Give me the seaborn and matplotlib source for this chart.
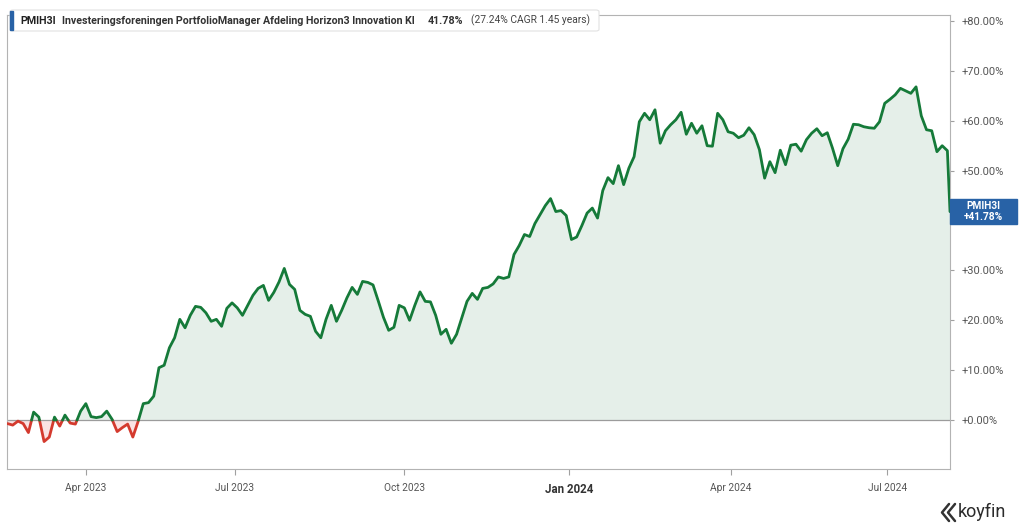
import numpy as np
import pandas as pd
import seaborn as sns
import matplotlib.pyplot as plt
import matplotlib.transforms as mtransforms
from matplotlib.patches import Rectangle, FancyBboxPatch
from matplotlib.lines import Line2D

# trading calendar of the fund (Copenhagen closing days)
start_date = "2023-02-20"
end_date = "2024-08-02"
holidays = ["2023-04-06", "2023-04-07", "2023-04-10", "2023-05-05", "2023-05-18",
            "2023-05-19", "2023-05-29", "2023-06-05", "2023-12-25", "2023-12-26",
            "2024-01-01", "2024-03-28", "2024-03-29", "2024-04-01", "2024-05-09",
            "2024-05-10", "2024-05-20", "2024-06-05"]

# cumulative return in %, read every second session (+ last session)
ret = [-0.7, -1.0, -0.2, -0.7, -2.5, 1.6, 0.6, -4.3, -3.4, 0.6,
       -1.2, 1.0, -0.6, -0.8, 1.8, 3.3, 0.7, 0.5, 0.7, 1.8,
       0.2, -2.3, -1.5, -0.8, -3.4, -0.3, 3.3, 3.5, 4.8, 10.5,
       11.0, 14.5, 16.5, 20.2, 18.5, 21.0, 22.8, 22.6, 21.5, 19.8,
       20.2, 18.8, 22.4, 23.5, 22.5, 21.0, 23.0, 25.0, 26.4, 27.0,
       24.0, 25.6, 27.7, 30.4, 27.2, 26.2, 22.0, 21.2, 20.8, 17.8,
       16.5, 20.2, 23.0, 19.8, 22.0, 24.5, 26.6, 25.2, 27.8, 27.6,
       27.1, 23.9, 20.6, 18.0, 18.6, 23.0, 22.5, 20.0, 23.0, 25.7,
       23.8, 23.7, 21.0, 17.2, 18.2, 15.4, 17.2, 20.5, 23.8, 25.4,
       24.2, 26.4, 26.6, 27.3, 28.7, 28.4, 28.7, 33.2, 35.0, 37.2,
       36.8, 39.4, 41.2, 43.0, 44.4, 41.8, 42.0, 41.0, 36.2, 36.7,
       39.0, 41.5, 42.5, 40.5, 46.0, 48.6, 47.4, 51.0, 47.2, 50.5,
       52.8, 59.8, 61.5, 60.2, 62.2, 55.5, 58.0, 59.2, 60.2, 61.7,
       57.3, 59.5, 57.5, 59.0, 55.0, 54.9, 61.5, 60.2, 57.8, 57.5,
       56.6, 57.1, 58.6, 57.2, 54.2, 48.5, 51.8, 49.6, 54.1, 51.2,
       55.1, 55.3, 53.9, 56.2, 57.5, 58.4, 57.0, 57.6, 54.5, 51.0,
       54.4, 56.3, 59.3, 59.2, 58.8, 58.6, 58.5, 59.8, 63.5, 64.3,
       65.2, 66.5, 66.0, 65.5, 66.8, 61.0, 58.2, 58.0, 53.8, 55.0,
       54.0, 41.78]

tick_months = ["2023-04-01", "2023-07-01", "2023-10-01", "2024-01-01", "2024-04-01", "2024-07-01"]
tick_labels = ["Apr 2023", "Jul 2023", "Oct 2023", "Jan 2024", "Apr 2024", "Jul 2024"]
y_ticks = [0, 10, 20, 30, 40, 50, 60, 70, 80]

ticker = "PMIH3I"
fund_name = "Investeringsforeningen PortfolioManager Afdeling Horizon3 Innovation KI"
total_ret = "41.78%"
cagr_text = "(27.24% CAGR 1.45 years)"

GREEN = "#157a39"
RED = "#d43a2e"
GREEN_FILL = "#e5efe9"
RED_FILL = "#fae3e3"
BLUE = "#2862a6"

sessions = pd.bdate_range(start_date, end_date, freq="C", holidays=holidays)
n = len(sessions)
idx = np.arange(0, n, 2)
if idx[-1] != n - 1:
    idx = np.append(idx, n - 1)
x = idx[:len(ret)].astype(float)
y = np.array(ret[:len(x)])

# add the zero crossings so the colour switch is clean
xs, ys = [x[0]], [y[0]]
for i in range(1, len(x)):
    if y[i - 1] * y[i] < 0:
        xs.append(x[i - 1] + (x[i] - x[i - 1]) * (-y[i - 1]) / (y[i] - y[i - 1]))
        ys.append(0.0)
    xs.append(x[i])
    ys.append(y[i])
xs, ys = np.array(xs), np.array(ys)

rows = []
seg, cur = 0, None
for i in range(len(xs) - 1):
    s = "up" if (ys[i] + ys[i + 1]) / 2 >= 0 else "down"
    if s != cur:
        seg += 1
        cur = s
        rows.append((seg, s, xs[i], ys[i]))
    rows.append((seg, s, xs[i + 1], ys[i + 1]))
df = pd.DataFrame(rows, columns=["seg", "sign", "x", "y"])

sns.set_theme(style="white")
plt.rcParams["font.family"] = ["Roboto", "DejaVu Sans"]

fig = plt.figure(figsize=(10.24, 5.29), dpi=100)
ax = fig.add_axes([7 / 1024, 1 - 469 / 529, 943 / 1024, 454 / 529])

ax.fill_between(xs, ys, 0, where=ys >= 0, color=GREEN_FILL, lw=0, interpolate=True, zorder=1)
ax.fill_between(xs, ys, 0, where=ys <= 0, color=RED_FILL, lw=0, interpolate=True, zorder=1)
ax.axhline(0, color="#9c9c9c", lw=0.9, zorder=2)

sns.lineplot(data=df, x="x", y="y", hue="sign", units="seg", estimator=None, sort=False,
             palette={"up": GREEN, "down": RED}, linewidth=2.0, legend=False, ax=ax, zorder=3)

ax.set_xlim(-0.2, n - 1)
ax.set_ylim(-9.8, 81.2)
ax.set_xlabel("")
ax.set_ylabel("")

tick_pos = [sessions.searchsorted(pd.Timestamp(m)) for m in tick_months]
ax.set_xticks(tick_pos)
ax.set_xticklabels(tick_labels)
ax.yaxis.tick_right()
ax.set_yticks(y_ticks)
# the +40% label sits behind the last-value box, as in the original
ax.set_yticklabels([f"+{v:.2f}%" if abs(v - y[-1]) > 4 else "" for v in y_ticks])
ax.tick_params(axis="x", length=4, width=0.8, color="#a0a0a0", labelsize=7.3, labelcolor="#555555", pad=6, bottom=True)
ax.tick_params(axis="y", length=3, width=0.8, color="#a0a0a0", labelsize=8, labelcolor="#555555", pad=5, right=True)
for lbl in ax.get_xticklabels():
    if lbl.get_text() == "Jan 2024":
        lbl.set_fontweight("bold")
        lbl.set_fontsize(8.3)
        lbl.set_color("#333333")

for sp in ax.spines.values():
    sp.set_visible(True)
    sp.set_color("#b3b3b3")
    sp.set_linewidth(0.8)

# last value label on the right
tr = mtransforms.blended_transform_factory(ax.transAxes, ax.transData)
ax.add_patch(Rectangle((1.0, y[-1] - 2.5), 0.071, 5.0, transform=tr, color=BLUE, clip_on=False, zorder=5))
ax.text(1.0355, y[-1], f"{ticker}\n+{total_ret}", transform=tr, ha="center", va="center",
        color="white", fontsize=7.3, fontweight="bold", linespacing=1.1, zorder=6)

# header box
fig.add_artist(FancyBboxPatch((10 / 1024, 1 - 31 / 529), 589 / 1024, 21 / 529,
                              boxstyle="round,pad=0,rounding_size=0.003", transform=fig.transFigure,
                              fc="white", ec="#e2e2e2", lw=0.8))
fig.add_artist(Rectangle((10 / 1024, 1 - 30 / 529), 3 / 1024, 19 / 529, transform=fig.transFigure,
                         color=BLUE))
hy = 1 - 20.5 / 529
fig.text(20 / 1024, hy, ticker, fontsize=7.7, fontweight="bold", color="#222222", va="center")
fig.text(62 / 1024, hy, fund_name, fontsize=7.7, fontweight=600, color="#333333", va="center")
fig.text(428 / 1024, hy, total_ret, fontsize=7.7, fontweight=600, color="#333333", va="center")
fig.text(471 / 1024, hy, cagr_text, fontsize=7.4, color="#444444", va="center")

# koyfin mark
for dx in (0, 6):
    fig.add_artist(Line2D([(949 + dx) / 1024, (942 + dx) / 1024, (949 + dx) / 1024],
                          [1 - 504 / 529, 1 - 512.5 / 529, 1 - 521 / 529],
                          transform=fig.transFigure, color="#333333", lw=1.8))
fig.text(958 / 1024, 1 - 512 / 529, "koyfin", fontsize=13, color="#2b2b2b", va="center")

fig.savefig("out.png", dpi=100)
